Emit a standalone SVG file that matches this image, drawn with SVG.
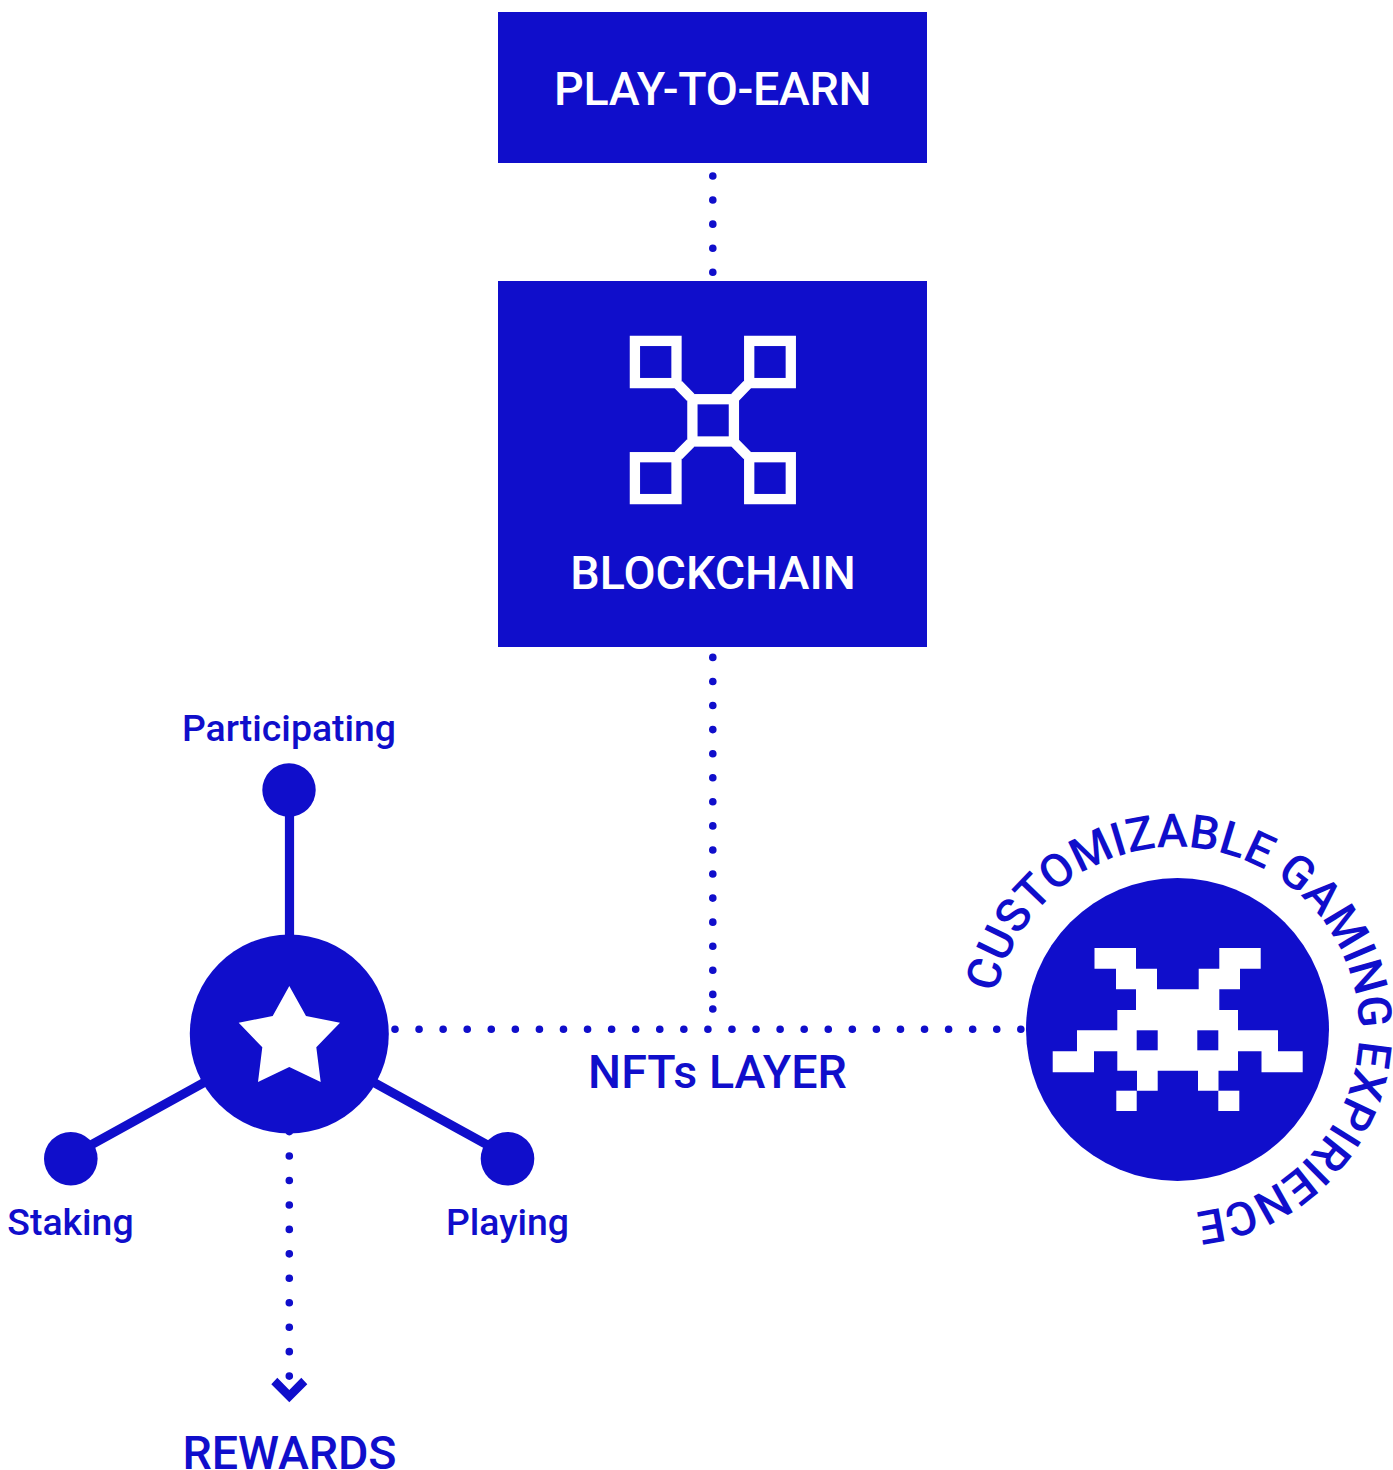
<svg xmlns="http://www.w3.org/2000/svg" width="1393" height="1470" viewBox="0 0 1393 1470">
<defs>
<style>
.box{fill:#100ecb}
.t{font-family:Roboto,"Liberation Sans",sans-serif;font-weight:500;fill:#100ecb}
.w{fill:#fff}
.big{font-size:46.6px;text-anchor:middle}
.small{font-size:37.4px;text-anchor:middle}
.dot{fill:none;stroke:#100ecb;stroke-width:7.6;stroke-linecap:round;stroke-dasharray:0 24.07}
.dot2{stroke-dasharray:0 24.45}
.line{fill:none;stroke:#100ecb;stroke-width:9.2}
.ws{fill:none;stroke:#fff;stroke-width:10.3}
</style>
<path id="arc" d="M993 1030A183 183 0 1 1 1359 1030A183 183 0 1 1 993 1030"/>
</defs>
<rect width="1393" height="1470" fill="#fff"/>
<g id="connectors">
<path class="dot" d="M712.8 176V274"/>
<path class="dot" d="M712.8 657.4V996"/>
<circle class="box" cx="712.8" cy="1009" r="3.8"/>
<path class="dot" d="M395 1029.3H1023"/>
<path class="dot dot2" d="M289.3 1131.6V1378"/>
<path class="line" d="M289.5 790V940"/>
<path class="line" d="M71 1156L205 1082"/>
<path class="line" d="M507.5 1156L373 1082"/>
<path class="box" d="M271.3 1384.3L277.3 1377.7L289.3 1390L301.3 1377.7L307.3 1384.3L289.3 1402.3Z"/>
</g>
<g id="play-to-earn">
<rect class="box" x="498" y="12" width="429" height="151"/>
<text class="t w big" x="712.6" y="105" letter-spacing="-0.35">PLAY-TO-EARN</text>
</g>
<g id="blockchain">
<rect class="box" x="498" y="281" width="429" height="366"/>
<rect class="ws" x="634.9" y="340.9" width="41.6" height="42.2"/>
<rect class="ws" x="749.2" y="340.9" width="41.6" height="42.2"/>
<rect class="ws" x="634.9" y="457.2" width="41.6" height="41.9"/>
<rect class="ws" x="749.2" y="457.2" width="41.6" height="41.9"/>
<rect class="ws" x="692.4" y="399.2" width="41.5" height="42.3"/>
<path class="ws" d="M678.3 384.7L690.7 397.3M747.3 384.7L735 397.3M678.3 455.5L690.7 443M747.3 455.5L735 443"/>
<text class="t w big" x="713" y="589">BLOCKCHAIN</text>
</g>
<g id="nfts-layer"><text class="t big" x="717.5" y="1088">NFTs LAYER</text></g>
<g id="hub">
<circle class="box" cx="289.3" cy="1034" r="99.5"/>
<polygon class="w" points="289.3,986 306,1016 340,1022.7 316.3,1047.3 320.7,1082 289.3,1067 258,1082 262.3,1047.3 238.7,1022.7 272.7,1016"/>
</g>
<g id="participating">
<circle class="box" cx="289" cy="790" r="26.7"/>
<text class="t small" x="289" y="741">Participating</text>
</g>
<g id="staking">
<circle class="box" cx="70.8" cy="1158.8" r="26.8"/>
<text class="t small" x="70.5" y="1235">Staking</text>
</g>
<g id="playing">
<circle class="box" cx="507.5" cy="1158.8" r="26.8"/>
<text class="t small" x="507.5" y="1235">Playing</text>
</g>
<g id="rewards"><text class="t big" x="289.5" y="1468.5" letter-spacing="-0.1">REWARDS</text></g>
<g id="gaming">
<circle class="box" cx="1177.5" cy="1029.5" r="151.5"/>
<path class="w" d="M1094.5 948H1136V968.7H1157V989.3H1198.7V968.7H1219.3V948H1260.7V968.7H1240V989.3H1219.3V1010H1238V1030.3H1278V1051.3H1302.7V1072.3H1261.5V1051.3H1238V1070.7H1218.5V1090.7H1198V1070.7H1157.7V1090.7H1137V1070.7H1117.3V1051.3H1094V1072.3H1052.7V1051.3H1077V1030.3H1117.3V1010H1136V989.3H1116V968.7H1094.5Z"/>
<rect class="box" x="1136.7" y="1030.3" width="21" height="20"/>
<rect class="box" x="1197.3" y="1030.3" width="21" height="20"/>
<rect class="w" x="1116.3" y="1090.7" width="20.4" height="20.3"/>
<rect class="w" x="1218.3" y="1090.7" width="21" height="20.3"/>
<text class="t" font-size="46.6"><textPath href="#arc" startOffset="37">CUSTOMIZABLE GAMING EXPIRIENCE</textPath></text>
</g>
</svg>
